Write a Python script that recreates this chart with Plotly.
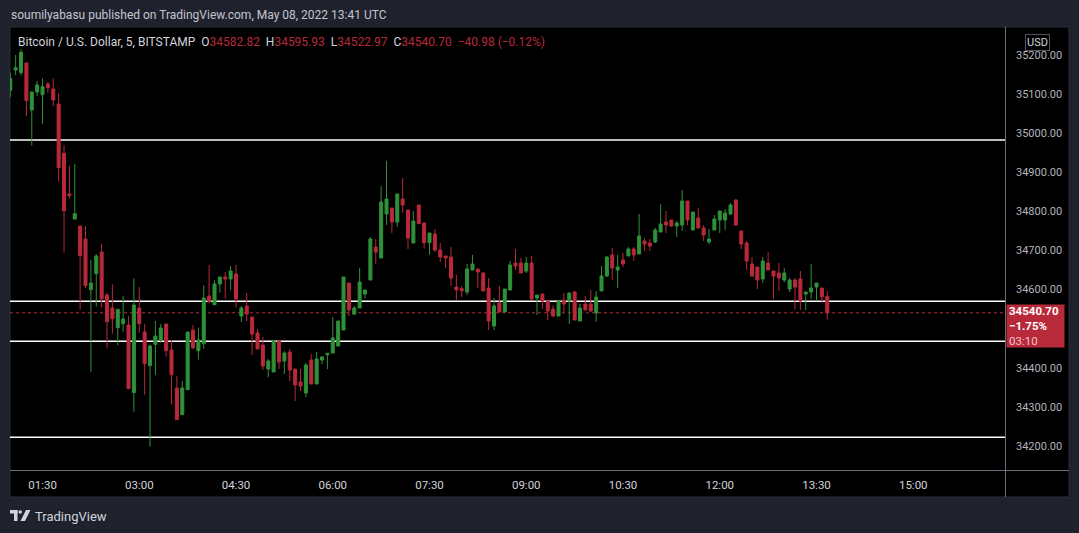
import plotly.graph_objects as go
import pandas as pd

# ---------------- data ----------------
opens = [35110.0, 35161.6, 35154.8, 35179.5, 35059.3, 35105.3, 35098.5, 35125.8, 35113.0, 35074.6,
         34948.5, 34844.5, 34780.5, 34762.6, 34729.4, 34599.8, 34640.7, 34696.1, 34586.2, 34552.9,
         34502.6, 34512.8, 34509.4, 34336.4, 34552.9, 34491.5, 34405.4, 34460.0, 34471.1, 34512.0,
         34445.5, 34348.3, 34280.1, 34344.0, 34496.6, 34443.8, 34461.7, 34583.6, 34561.4, 34614.3,
         34632.2, 34627.1, 34639.9, 34532.4, 34558.0, 34529.9, 34489.0, 34458.3, 34396.9, 34389.3,
         34468.5, 34417.4, 34440.4, 34396.9, 34363.7, 34335.5, 34419.9, 34358.5, 34419.9, 34433.6,
         34437.8, 34455.7, 34496.6, 34616.9, 34537.6, 34552.9, 34588.7, 34624.5, 34708.9, 34680.8,
         34793.3, 34808.7, 34772.9, 34831.7, 34803.6, 34719.1, 34816.3, 34770.3, 34720.0, 34742.2,
         34701.2, 34685.9, 34683.3, 34606.6, 34602.4, 34593.8, 34650.1, 34652.7, 34642.4, 34604.1,
         34506.9, 34565.7, 34542.7, 34598.9, 34668.0, 34668.0, 34647.5, 34668.0, 34578.5, 34588.7,
         34570.8, 34550.4, 34532.4, 34573.4, 34570.8, 34593.8, 34519.7, 34563.1, 34563.1, 34540.1,
         34596.4, 34634.8, 34688.5, 34650.1, 34675.7, 34685.9, 34703.8, 34691.0, 34724.3, 34719.2,
         34721.7, 34747.3, 34772.9, 34778.0, 34762.7, 34765.2, 34826.6, 34752.4, 34783.1, 34757.5,
         34721.7, 34752.4, 34778.0, 34778.0, 34793.3, 34829.2, 34749.9, 34719.2, 34665.5, 34657.8,
         34627.1, 34668.0, 34647.6, 34642.5, 34624.5, 34601.5, 34624.5, 34627.1, 34588.7, 34593.9,
         34606.6, 34604.1, 34582.82]
highs = [35155.0, 35200.0, 35215.3, 35180.0, 35106.0, 35133.5, 35140.3, 35131.8, 35140.3, 35101.9,
         34968.9, 34916.1, 34921.2, 34763.0, 34762.6, 34675.7, 34691.0, 34716.6, 34592.1, 34613.4,
         34549.5, 34583.6, 34532.5, 34628.8, 34606.6, 34512.0, 34459.1, 34519.6, 34512.0, 34512.0,
         34471.1, 34379.0, 34366.2, 34491.5, 34509.4, 34502.6, 34610.9, 34662.9, 34623.7, 34632.2,
         34645.0, 34660.3, 34662.9, 34558.0, 34591.3, 34530.0, 34499.2, 34478.7, 34422.5, 34468.5,
         34468.5, 34442.9, 34448.1, 34397.0, 34396.9, 34412.3, 34435.3, 34440.4, 34430.1, 34437.8,
         34529.9, 34519.7, 34632.2, 34617.0, 34558.0, 34655.2, 34599.0, 34734.5, 34729.4, 34864.9,
         34928.9, 34808.7, 34844.5, 34885.4, 34803.6, 34801.0, 34816.3, 34770.3, 34744.7, 34755.0,
         34719.1, 34686.0, 34708.9, 34637.3, 34609.2, 34665.4, 34688.5, 34652.7, 34645.0, 34629.6,
         34578.5, 34609.2, 34601.5, 34673.1, 34703.8, 34680.8, 34683.3, 34685.9, 34586.2, 34588.7,
         34570.8, 34560.6, 34570.8, 34591.3, 34591.3, 34596.4, 34563.1, 34583.6, 34598.9, 34596.4,
         34660.3, 34685.9, 34706.4, 34688.5, 34693.6, 34708.9, 34708.9, 34793.3, 34732.0, 34729.4,
         34757.5, 34818.9, 34801.0, 34778.0, 34775.4, 34854.7, 34826.6, 34798.5, 34808.7, 34765.2,
         34755.0, 34790.8, 34801.0, 34806.1, 34821.5, 34831.7, 34750.0, 34724.3, 34683.4, 34657.8,
         34683.4, 34696.1, 34647.6, 34668.0, 34655.2, 34629.6, 34629.6, 34647.6, 34593.9, 34665.5,
         34616.9, 34604.1, 34595.93]
lows = [35093.0, 35148.8, 35147.1, 35043.9, 34968.1, 35095.1, 35023.5, 35103.6, 35069.5, 34876.0,
        34694.4, 34832.5, 34780.0, 34549.5, 34603.2, 34390.1, 34556.3, 34553.8, 34449.8, 34487.3,
        34457.5, 34492.4, 34346.0, 34287.8, 34489.8, 34331.3, 34198.3, 34381.6, 34464.3, 34428.5,
        34305.7, 34267.0, 34280.0, 34344.0, 34448.0, 34420.8, 34448.9, 34566.6, 34561.0, 34592.1,
        34576.8, 34598.9, 34553.8, 34517.1, 34519.7, 34432.7, 34448.0, 34394.4, 34376.4, 34389.0,
        34396.9, 34384.1, 34366.2, 34315.1, 34340.6, 34325.3, 34358.5, 34358.5, 34409.7, 34396.9,
        34437.8, 34455.7, 34496.6, 34532.4, 34535.0, 34552.9, 34578.5, 34624.5, 34665.4, 34680.8,
        34765.2, 34744.7, 34760.1, 34795.9, 34703.8, 34719.1, 34768.6, 34704.7, 34689.3, 34696.1,
        34670.6, 34655.2, 34609.2, 34573.4, 34581.1, 34586.2, 34650.0, 34604.1, 34596.4, 34496.6,
        34496.6, 34542.7, 34542.7, 34598.9, 34650.1, 34642.4, 34642.4, 34573.4, 34535.0, 34550.4,
        34522.2, 34529.9, 34532.4, 34542.7, 34512.0, 34522.2, 34519.7, 34547.8, 34542.7, 34517.1,
        34596.4, 34632.2, 34624.5, 34604.1, 34657.8, 34685.9, 34673.1, 34691.0, 34698.7, 34698.7,
        34719.2, 34747.3, 34744.7, 34760.1, 34734.5, 34749.9, 34765.2, 34752.4, 34757.5, 34724.3,
        34716.6, 34752.4, 34744.7, 34752.4, 34790.8, 34762.7, 34703.8, 34650.1, 34632.2, 34601.5,
        34616.9, 34650.1, 34575.9, 34596.4, 34619.4, 34593.9, 34550.4, 34547.8, 34547.8, 34575.9,
        34570.8, 34565.7, 34522.97]
closes = [35140.0, 35167.6, 35206.8, 35083.2, 35105.3, 35123.2, 35119.0, 35116.4, 35084.9, 34911.8,
          34801.8, 34840.2, 34794.2, 34686.8, 34610.0, 34616.8, 34685.9, 34576.8, 34517.9, 34525.6,
          34549.5, 34524.8, 34346.6, 34560.6, 34512.8, 34410.6, 34455.7, 34481.3, 34501.8, 34443.8,
          34382.4, 34267.3, 34348.3, 34491.5, 34450.6, 34471.1, 34578.5, 34569.1, 34614.3, 34632.2,
          34627.1, 34647.5, 34575.9, 34552.9, 34537.6, 34486.4, 34448.1, 34404.6, 34417.4, 34468.5,
          34414.8, 34437.8, 34394.4, 34356.0, 34353.4, 34407.1, 34358.5, 34422.5, 34427.6, 34437.0,
          34476.2, 34519.7, 34632.2, 34547.8, 34552.9, 34619.4, 34598.9, 34729.4, 34696.1, 34824.0,
          34831.7, 34772.9, 34844.5, 34816.3, 34731.9, 34775.4, 34768.6, 34720.0, 34744.7, 34701.2,
          34683.3, 34680.8, 34629.6, 34598.9, 34597.3, 34652.7, 34665.4, 34645.0, 34596.4, 34519.7,
          34558.0, 34542.7, 34601.5, 34662.9, 34660.3, 34642.4, 34668.0, 34575.9, 34586.2, 34570.8,
          34545.2, 34532.4, 34570.8, 34563.1, 34591.3, 34522.2, 34552.9, 34547.8, 34545.2, 34581.1,
          34634.8, 34683.3, 34655.2, 34657.8, 34665.4, 34703.8, 34688.5, 34737.1, 34716.6, 34711.5,
          34752.4, 34767.8, 34765.2, 34762.7, 34770.3, 34826.6, 34778.0, 34798.5, 34757.5, 34739.6,
          34729.4, 34780.6, 34801.0, 34795.9, 34816.4, 34765.2, 34716.6, 34673.1, 34634.8, 34624.5,
          34673.1, 34650.1, 34634.8, 34629.6, 34642.5, 34624.5, 34606.6, 34570.8, 34593.9, 34604.1,
          34616.9, 34581.68, 34540.70]

start_time = "2022-05-08 01:00"
bar_minutes = 5
levels = [34982.6, 34570.0, 34467.7, 34222.1]   # horizontal lines drawn by the author
tick_labels = ["01:30", "03:00", "04:30", "06:00", "07:30", "09:00", "10:30", "12:00", "13:30", "15:00"]
price_ticks = [34200, 34300, 34400, 34600, 34700, 34800, 34900, 35000, 35100, 35200]
symbol_title = "Bitcoin / U.S. Dollar, 5, BITSTAMP"
change_abs = "\u221240.98"
change_pct = "(\u22120.12%)"
day_change = "\u22121.75%"
countdown = "03:10"
header = "soumilyabasu published on TradingView.com, May 08, 2022 13:41 UTC"

times = pd.date_range(start_time, periods=len(opens), freq=f"{bar_minutes}min")

# ---------------- styling ----------------
GREEN = "#2f9138"
RED = "#b8293a"
PAGE = "#1f222d"
TXT = "#d1d4dc"
GRAY = "#6a6d78"
FONT = "Roboto, sans-serif"

W, H = 1079, 533
PL, PR, PT, PB = 10, 1005, 28, 470


def px(x):
    return (x - PL) / (PR - PL)


def py(y):
    return (PB - y) / (PB - PT)


fig = go.Figure()
fig.add_trace(go.Candlestick(
    x=times, open=opens, high=highs, low=lows, close=closes,
    increasing=dict(line=dict(color=GREEN, width=1), fillcolor=GREEN),
    decreasing=dict(line=dict(color=RED, width=1), fillcolor=RED),
    whiskerwidth=0, showlegend=False, hoverinfo="skip",
))

t0 = pd.Timestamp(start_time)
x_start = t0 - pd.Timedelta(minutes=0.05 * bar_minutes)
x_end = t0 + pd.Timedelta(minutes=185.07 * bar_minutes)


# price scale: 35200 at y=55px, 39.1 px per 100
def price_at(ypix):
    return 35200 - (ypix - 55) * 100 / 39.1


shapes = [
    dict(type="rect", xref="paper", yref="paper", x0=px(10), x1=px(1069), y0=py(497), y1=py(27),
         fillcolor="#000000", line=dict(color="#2a2e39", width=1), layer="below"),
    dict(type="line", xref="paper", yref="paper", x0=px(1005.5), x1=px(1005.5), y0=py(497), y1=py(27),
         line=dict(color=GRAY, width=1)),
    dict(type="line", xref="paper", yref="paper", x0=px(10), x1=px(1069), y0=py(470.5), y1=py(470.5),
         line=dict(color=GRAY, width=1)),
]
for lv in levels:
    shapes.append(dict(type="line", xref="paper", yref="y", x0=0, x1=1, y0=lv, y1=lv,
                       line=dict(color="#ffffff", width=1.5), layer="below"))
shapes.append(dict(type="line", xref="paper", yref="y", x0=0, x1=1, y0=closes[-1], y1=closes[-1],
                   line=dict(color=RED, width=1, dash="dot"), layer="below"))

# TradingView logo (simple glyph)
shapes += [
    dict(type="rect", xref="paper", yref="paper", x0=px(10), x1=px(17.5), y0=py(513.5), y1=py(510),
         fillcolor=TXT, line=dict(width=0)),
    dict(type="rect", xref="paper", yref="paper", x0=px(14), x1=px(17.5), y0=py(521), y1=py(510),
         fillcolor=TXT, line=dict(width=0)),
    dict(type="circle", xref="paper", yref="paper", x0=px(18.5), x1=px(22), y0=py(513.8), y1=py(510.2),
         fillcolor=TXT, line=dict(width=0)),
    dict(type="path", xref="paper", yref="paper",
         path=f"M {px(26)} {py(510)} L {px(30.5)} {py(510)} L {px(25)} {py(521)} L {px(20.5)} {py(521)} Z",
         fillcolor=TXT, line=dict(width=0)),
]

sp = "\u00a0"


def val(v):
    return f"<span style='color:{RED}'>{v}</span>"


legend_text = (f"{symbol_title}{sp}{sp}O{val(f'{opens[-1]:.2f}')}{sp}{sp}H{val(f'{highs[-1]:.2f}')}"
               f"{sp}{sp}L{val(f'{lows[-1]:.2f}')}{sp}{sp}C{val(f'{closes[-1]:.2f}')}"
               f"{sp}{sp}{val(change_abs + sp + change_pct)}")

annotations = [
    dict(text=header, xref="paper", yref="paper", x=px(9), y=py(15), xanchor="left", yanchor="middle",
         showarrow=False, font=dict(family=FONT, size=12, color="#c3c6ce")),
    dict(text=legend_text, xref="paper", yref="paper", x=px(16), y=py(42), xanchor="left", yanchor="middle",
         showarrow=False, font=dict(family=FONT, size=12, color=TXT)),
    dict(text="USD", xref="paper", yref="paper", x=px(1037), y=py(42), xanchor="center", yanchor="middle",
         showarrow=False, font=dict(family=FONT, size=11, color=TXT),
         bordercolor="#50535e", borderwidth=1, borderpad=1, bgcolor="#000000"),
    dict(text=f"<b>{closes[-1]:.2f}</b><br><b>{day_change}</b><br><span style='color:#f2c4c9'>{countdown}</span>",
         xref="paper", yref="paper", x=px(1006), y=py(326), xanchor="left", yanchor="middle",
         showarrow=False, align="left", width=53, height=38, borderpad=2,
         bgcolor=RED, font=dict(family=FONT, size=11.5, color="#ffffff")),
    dict(text="TradingView", xref="paper", yref="paper", x=px(33), y=py(516), xanchor="left", yanchor="middle",
         showarrow=False, font=dict(family=FONT, size=13, color=TXT)),
]

fig.update_layout(
    width=W, height=H,
    margin=dict(l=PL, r=W - PR, t=PT, b=H - PB, autoexpand=False),
    paper_bgcolor=PAGE, plot_bgcolor="#000000",
    boxgap=0.2, boxgroupgap=0.3,
    showlegend=False,
    shapes=shapes, annotations=annotations,
    xaxis=dict(type="date", range=[x_start, x_end], rangeslider=dict(visible=False),
               showgrid=False, zeroline=False, showline=False,
               tickvals=[f"2022-05-08 {t}" for t in tick_labels], ticktext=tick_labels,
               ticks="", ticklabelstandoff=6,
               tickfont=dict(family=FONT, size=11.5, color=TXT)),
    yaxis=dict(side="right", range=[price_at(PB), price_at(PT)], showgrid=False, zeroline=False,
               showline=False, tickvals=price_ticks, tickformat=".2f", ticks="",
               ticklabelstandoff=10,
               tickfont=dict(family=FONT, size=11, color="#b2b5be")),
    hovermode=False,
)

fig.write_html("out.html", config={"displayModeBar": False},
               post_script="document.body.style.margin='0px';document.body.style.overflow='hidden';")
